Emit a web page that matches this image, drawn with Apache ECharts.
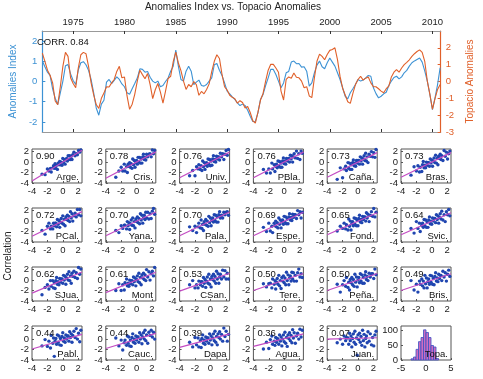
<!DOCTYPE html>
<html>
<head>
<meta charset="utf-8">
<script src="https://cdn.jsdelivr.net/npm/echarts@6/dist/echarts.min.js"></script>
<style>
    html, body { margin: 0; padding: 0; background: #fff; }
    #chart { width: 483px; height: 379px; }
</style>
</head>
<body>
<div id="chart"></div>
<script>
// ---- top panel: quarterly samples ----
var startYear = 1972;
var stepYear = 0.25;
var anomIndex = [
    1.01, 0.73, 0.46, 0.3, -0.36, -0.83, -1.14, -0.56, 0.02, 0.78, 0.84, 0.38,
    0.05, -0.15, 0.56, 0.93, 0.98, 0.83, 0.55, 0.1, -0.56, -1.31, -1.67, -1.12,
    -0.93, -0.03, 0.1, -0.1, 0.05, 0.23, 0.1, -0.12, -0.26, -0.56, -0.63, -0.36,
    -0.1, 0.17, 0.63, 0.6, 0.46, 0.5, 0.21, 0.02, -0.07, 0.02, -0.26, -0.2,
    0, 0.17, 0.51, 0.76, 1.55, 0.76, 0.1, 0.02, 0.51, 0.76, 0.51, -0.15,
    -0.03, 0.07, -0.2, -0.23, -0.15, 0.02, 0.18, 0.83, 0.89, 0.56, 0.3, -0.07,
    -0.48, -0.61, -0.76, -0.89, -1.06, -1.19, -1.12, -1.19, -1.42, -1.72, -1.98, -1.97,
    -1.55, -0.89, -0.64, -0.2, 0.18, 0.6, 0.6, 0.35, 0.02, -0.31, -0.07, 0.43,
    0.5, 0.96, 1.01, 0.88, 0.89, 0.71, 0.73, 0.51, -0.23, -0.07, 0.43, 0.81,
    1.01, 0.73, 0.63, 0.93, 1.16, 0.96, 0.76, 0.43, 0.1, -0.31, -0.73, -0.86,
    -0.56, -0.36, -0.15, 0.1, 0.02, 0.07, 0.18, 0.3, 0.26, -0.31, -0.6, -0.81,
    -0.73, -0.61, -0.53, -0.2, 0.02, 0.2, 0.26, 0.13, 0.23, 0.43, 0.55, 0.76,
    0.93, 1.02, 1.09, 1.16, 0.96, 0.53, 0.02, -0.64, -1.39, -0.81, -0.15, 0.68
];
var topacio = [
    1.69, 1.2, 0.67, 0.37, -0.08, -1.16, -1.37, -0.31, 0.9, 1.73, 1.49, 0.22,
    -0.12, -0.37, 0.8, 1.59, 1.73, 1.65, 0.9, -0.08, -0.8, -1.37, -1.6, -1.0,
    -0.69, -0.31, -0.33, -0.08, 0.12, 0.6, 0.9, 0.22, 0.27, -0.86, -1.65, -1.35,
    -0.76, 0.02, 0.67, 0.41, 0.16, 0.47, -0.18, -1.02, -0.49, -0.12, -0.63, -1.29,
    -0.57, 0.18, 0.31, 1.18, 1.75, 1.1, 0.65, 0.02, -0.47, -0.18, -0.31, 0,
    -0.18, -0.82, -0.59, -0.73, -0.47, -0.14, 0.59, 1.2, 1.59, 1.37, 0.43, -0.31,
    -0.51, -0.82, -0.94, -1.02, -1.29, -1.14, -1.25, -1.57, -1.49, -1.84, -2.33, -2.47,
    -1.84, -1.1, -0.71, 0.02, 0.67, 1.02, 1.02, 0.8, 0.55, -0.57, -1.1, 0.12,
    0.27, 0.2, 0.51, 0.25, 0.22, 0.02, -0.37, -0.31, -0.86, -0.96, 0.22, 1.2,
    1.63, 1.49, 1.29, 1.6, 1.85, 1.9, 2.0, 1.3, 0.3, -0.4, -0.8, -1.2,
    -1.3, -0.7, -0.18, 0.12, 0.31, 0.08, 0.2, 0.27, -0.08, -0.31, -0.31, -0.43,
    -0.57, -0.67, -0.43, -0.27, 0.27, 0.55, 0.71, 0.55, 0.8, 1.0, 1.14, 1.29,
    1.49, 1.65, 1.78, 1.88, 1.73, 1.2, 0.02, -0.76, -1.65, -1.02, -0.47, -0.18
];
var yearTicks = [1975, 1980, 1985, 1990, 1995, 2000, 2005, 2010];
var leftTicks = [-2, -1, 0, 1, 2];
var rightTicks = [-3, -2, -1, 0, 1, 2];

// ---- scatter panels ----
var stations = ['Arge.', 'Cris.', 'Univ.', 'PBla.', 'Caña.', 'Bras.',
    'PCal.', 'Yana.', 'Pala.', 'Espe.', 'Fond.', 'Svic.',
    'SJua.', 'Mont', 'CSan.', 'Tere.', 'Peña.', 'Bris.',
    'Pabl.', 'Cauc.', 'Dapa', 'Agua.', 'Juan.'];
var corrVals = ['0.90', '0.78', '0.76', '0.76', '0.73', '0.73',
    '0.72', '0.70', '0.70', '0.69', '0.65', '0.64',
    '0.62', '0.61', '0.53', '0.50', '0.50', '0.49',
    '0.44', '0.44', '0.39', '0.36', '0.07'];
var fitLeft = [-3.6, -3.1, -3.0, -3.0, -2.9, -2.9, -2.9, -2.8, -2.8, -2.8, -2.6, -2.6,
    -2.5, -2.4, -2.1, -2.0, -2.0, -2.0, -1.9, -1.8, -1.6, -1.4, 0.0];
var fitRight = [2.25, 1.95, 1.9, 1.9, 1.8, 1.8, 1.8, 1.75, 1.75, 1.7, 1.6, 1.6,
    1.55, 1.5, 1.3, 1.25, 1.25, 1.2, 0.9, 1.1, 1.0, 1.0, 0.25];
var scatTicks = [-4, -2, 0, 2];

var topaX = [-2.7, -2.3, -2.0, -1.8, -1.6, -1.5, -1.3, -1.2, -1.1, -1.0, -0.9, -0.8, -0.7, -0.6, -0.5,
    -0.4, -0.3, -0.2, -0.1, 0.0, 0.1, 0.2, 0.3, 0.4, 0.5, 0.6, 0.7, 0.8, 0.9, 1.0,
    1.1, 1.2, 1.3, 1.45, 1.6, 1.75, 1.9, 2.05, 2.2, 2.35];
var yArge = [-2.3, -2.4, -1.3, -1.7, -1.2, -1.9, -1.1, -0.7, -1.2, -0.3, -1.2, -0.6, -1.4, -0.2, -0.5, 0.1, -0.5, 0.0, -0.6, 0.7, -0.1, 0.5, -0.4, 0.4, 0.7, 0.2, 1.2, 0.5, 1.2, 0.5, 1.1, 0.5, 1.4, 1.9, 1.2, 1.6, 1.4, 2.2, 1.9, 2.3];
var yCris = [-2.9, -1.7, -1.0, -1.7, -0.4, -1.7, -0.9, -2.0, -0.4, -0.8, -0.1, -1.0, -0.3, -1.2, 0.6, -0.5, 0.3, -1.0, -0.1, 0.3, -0.4, 0.9, 0.0, 0.9, -0.2, 0.6, -0.2, 1.0, 1.5, 0.5, 0.9, 0.4, 1.5, 1.0, 1.5, 1.6, 1.0, 2.3, 1.6, 2.2];
var yUniv = [-2.6, -1.6, -2.6, -0.9, -1.3, -0.5, -1.4, -0.7, -1.6, 0.2, -0.9, -0.1, -1.4, -0.5, -0.1, -0.8, 0.6, -0.4, 0.5, -0.7, 0.2, -0.6, 0.6, 1.2, 0.1, 0.5, 0.0, 1.1, 0.6, 1.0, 1.0, 0.4, 1.7, 1.0, 1.6, 0.5, 1.5, 2.2, 1.3, 2.4];
var yPBla = [-1.4, -2.1, -1.3, -2.1, -0.2, -1.3, -0.5, -1.8, -0.8, -0.4, -1.1, 0.2, -0.8, 0.1, -1.0, -0.2, -1.0, 0.2, 0.8, -0.3, 0.2, -0.4, 0.7, 0.2, 0.6, 0.7, 0.0, 1.3, 0.6, 1.2, 0.0, 1.0, 1.6, 0.8, 2.1, 0.7, 1.6, 0.5, 2.1, 1.7];
var yCana = [-3.3, -1.1, -3.0, -1.3, -0.8, -1.6, -0.1, -1.2, -0.2, -1.4, -0.5, -1.4, -0.1, 0.4, -0.7, -0.2, -0.8, 0.3, -0.2, 0.3, 0.3, -0.4, 1.0, 0.2, 0.8, -0.4, 0.6, 1.2, 0.3, 1.7, 0.2, 1.0, -0.1, 1.5, 1.1, 2.0, 1.0, 1.8, 0.9, 2.4];
var yBras = [-2.5, -0.9, -1.7, -0.7, -1.9, -1.0, -1.8, -0.5, 0.1, -1.1, -0.6, -1.1, 0.0, -0.6, -0.1, -0.1, -0.8, 0.6, -0.2, 0.4, -0.8, 0.2, 0.8, -0.1, 1.3, -0.2, 0.7, -0.5, 1.1, 0.7, 1.5, 0.5, 1.2, 0.3, 2.2, 1.1, 1.9, 0.6, 1.6, 2.1];
var yPCal = [-1.8, -2.5, -1.0, -0.4, -1.5, -1.0, -1.5, -0.4, -0.9, -0.4, -0.4, -1.1, 0.3, -0.6, 0.1, -1.2, -0.2, 0.5, -0.4, 1.0, -0.6, 0.3, -0.9, 0.8, 0.3, 1.1, 0.1, 0.9, -0.1, 1.8, 0.6, 1.4, 0.0, 1.0, 1.5, 0.8, 2.2, 1.2, 2.2, 1.0];
var yYana = [-1.8, -2.2, -0.9, -1.4, -0.8, -0.8, -1.5, -0.1, -0.9, -0.3, -1.6, -0.5, 0.2, -0.8, 0.6, -0.9, -0.1, -1.3, 0.4, -0.1, 0.8, -0.3, 0.5, -0.5, 1.4, 0.2, 1.1, -0.4, 0.6, 1.1, 0.3, 1.7, 0.6, 1.7, 0.4, 1.4, 0.5, 1.9, 2.4, 1.3];
var yPala = [-1.1, -1.8, -1.0, -2.2, -1.1, -0.4, -1.3, 0.2, -1.4, -0.6, -1.8, -0.1, -0.6, 0.3, -0.8, 0.0, -1.0, 0.9, -0.3, 0.6, -0.9, 0.1, 0.6, -0.2, 1.2, 0.1, 1.1, -0.2, 0.8, -0.2, 1.2, 1.8, 0.6, 1.1, 0.6, 1.7, 1.2, 1.7, 1.8, 1.1];
var yEspe = [-1.2, -2.0, -0.4, -1.9, -1.0, -2.2, -0.4, -0.9, 0.0, -1.1, -0.3, -1.3, 0.6, -0.6, 0.2, -1.3, -0.2, 0.2, -0.6, 0.9, -0.2, 0.8, -0.5, 0.4, -0.5, 0.8, 1.4, 0.2, 0.7, 0.1, 1.3, 0.7, 1.2, 1.2, 0.5, 2.0, 1.2, 1.8, 0.6, 1.7];
var yFond = [-1.9, -1.0, -1.4, -0.4, -1.5, -0.7, -1.7, 0.4, -1.0, 0.0, -1.7, -0.5, -0.1, -0.9, 0.6, -0.6, 0.5, -0.9, 0.1, -0.9, 0.5, 1.1, -0.2, 0.3, -0.3, 0.9, 0.3, 0.8, 0.8, 0.0, 1.6, 0.6, 1.3, -0.1, 1.1, 1.8, 0.9, 2.4, 0.8, 1.7];
var ySvic = [-1.4, -2.3, -0.1, -1.4, -0.4, -2.0, -0.8, -0.4, -1.2, 0.3, -0.9, 0.2, -1.2, -0.2, -1.2, 0.2, 0.8, -0.5, 0.0, -0.6, 0.6, 0.0, 0.5, 0.5, -0.3, 1.2, 0.3, 1.0, -0.4, 0.7, 1.4, 0.4, 1.9, 0.2, 1.2, -0.1, 1.8, 1.2, 2.2, 1.0];
var ySJua = [-2.8, -1.4, -0.9, -1.7, -0.1, -1.2, -0.1, -1.5, -0.5, -1.6, -0.1, 0.5, -0.8, -0.3, -0.9, 0.3, -0.4, 0.2, 0.2, -0.6, 0.9, 0.0, 0.7, -0.8, 0.4, 1.1, 0.0, 1.6, -0.1, 0.8, -0.6, 1.3, 0.7, 1.7, 0.5, 1.4, 0.3, 2.4, 1.1, 2.1];
var yMont = [-2.0, -0.7, -2.0, -0.9, -1.9, -0.5, 0.2, -1.1, -0.6, -1.2, 0.0, -0.7, -0.1, -0.1, -0.9, 0.6, -0.3, 0.4, -1.1, 0.1, 0.8, -0.3, 1.3, -0.5, 0.5, -0.9, 1.0, 0.4, 1.3, 0.1, 1.0, -0.1, 2.0, 0.6, 1.6, 0.0, 1.2, 1.7, 0.8, 2.4];
var yCSan = [-0.9, -0.1, -1.5, -0.9, -1.5, -0.2, -0.9, -0.3, -0.3, -1.2, 0.5, -0.6, 0.1, -1.4, -0.2, 0.6, -0.6, 1.1, -0.8, 0.2, -1.3, 0.7, 0.1, 1.1, -0.2, 0.7, -0.6, 1.7, 0.2, 1.2, -0.6, 0.6, 1.1, 0.2, 1.9, 0.6, 1.8, 0.2, 1.3, 0.2];
var yTere = [-0.7, -1.3, -0.7, -0.6, -1.5, 0.2, -0.8, -0.1, -1.7, -0.4, 0.3, -0.8, 0.9, -1.1, -0.1, -1.6, 0.5, -0.2, 0.8, -0.5, 0.4, -0.9, 1.5, -0.1, 1.0, -0.9, 0.4, 0.8, -0.2, 1.5, 0.2, 1.4, -0.2, 0.9, -0.2, 1.4, 2.1, 0.6, 1.2, 0.5];
var yPena = [-0.8, -2.3, -0.9, -0.1, -1.2, 0.5, -1.4, -0.4, -1.9, 0.1, -0.5, 0.5, -0.9, 0.1, -1.2, 1.1, -0.4, 0.6, -1.3, 0.0, 0.5, -0.5, 1.2, -0.2, 1.0, -0.6, 0.5, -0.6, 1.0, 1.6, 0.1, 0.7, -0.1, 1.3, 0.6, 1.2, 1.2, 0.3, 2.1, 1.0];
var yBris = [-0.1, -1.9, -0.8, -2.3, -0.2, -0.8, 0.2, -1.1, -0.2, -1.5, 0.9, -0.7, 0.4, -1.5, -0.3, 0.2, -0.8, 0.9, -0.4, 0.8, -0.8, 0.3, -0.9, 0.7, 1.4, -0.2, 0.4, -0.3, 1.1, 0.3, 0.9, 0.9, -0.1, 1.7, 0.6, 1.4, -0.2, 1.1, 1.9, 0.7];
var yPabl = [-1.3, -0.1, -1.4, -0.4, -1.7, 0.7, -0.8, 0.2, -3.3, -0.4, 0.1, -1.0, 0.8, -0.6, 0.6, -1.1, 0.1, -1.2, 0.5, 1.2, -0.4, 0.2, -0.6, 0.8, 0.0, 0.6, 0.6, -0.4, 1.4, 0.3, 1.0, -0.6, 0.7, 1.5, 0.3, 2.0, 0.0, 1.1, -0.5, 1.7];
var yCauc = [0.2, -1.3, -0.2, -2.1, -0.7, -0.2, -1.2, 0.6, -0.8, 0.4, -1.3, -0.2, -1.4, 0.3, 1.0, -0.6, 0.0, -0.8, 0.6, -0.2, 0.4, 0.4, -0.6, 1.2, 0.0, 0.8, -0.9, 0.4, 1.2, 0.0, 1.7, -0.3, 0.8, -0.8, 1.3, 0.7, 1.7, 0.4, 1.3, 0.0];
var yDapa = [-0.6, -1.5, 0.3, -1.1, 0.2, -1.5, -0.3, -1.6, 0.1, 0.8, -0.8, -0.2, -1.0, 0.4, -0.4, 0.2, 0.2, -0.8, 1.0, -0.2, 0.6, -1.1, 0.2, 1.0, -0.3, 1.5, -0.6, 0.5, -1.1, 1.0, 0.3, 1.4, 0.0, 0.9, -0.4, 2.1, 0.5, 1.5, -0.4, 0.9];
var yAgua = [-1.9, -0.6, -1.8, -0.1, 0.6, -1.0, -0.4, -1.2, 0.3, -0.6, 0.1, 0.0, -1.0, 0.8, -0.4, 0.4, -1.3, 0.0, 0.8, -0.5, 1.3, -0.8, 0.3, -1.4, 0.8, 0.1, 1.2, -0.3, 0.7, -0.7, 1.8, 0.2, 1.2, -0.8, 0.6, 1.1, 0.0, 1.9, 0.4, 1.7];
var yJuan = [-0.7, 0.0, -1.0, 0.6, -0.3, 0.3, 0.2, -1.0, 1.1, -0.3, 0.6, -1.5, 0.1, 1.0, -0.6, 1.5, -1.0, 0.2, -3.1, 0.8, -0.1, 1.1, -0.6, 0.5, -1.2, 1.7, -0.3, 0.9, -1.5, 0.1, 0.6, -0.7, 1.4, -0.4, 1.0, -1.1, 0.3, -1.3, 0.8, 1.5];
var stationY = [yArge, yCris, yUniv, yPBla, yCana, yBras, yPCal, yYana, yPala, yEspe, yFond, ySvic,
    ySJua, yMont, yCSan, yTere, yPena, yBris, yPabl, yCauc, yDapa, yAgua, yJuan];

// ---- histogram (Topa.) ----
var histCenters = [-2.75, -2.25, -1.75, -1.25, -0.75, -0.25, 0.25, 0.75, 1.25, 1.75, 2.25];
var histCounts = [4, 10, 36, 62, 76, 102, 93, 76, 49, 44, 5];
var binWidth = 0.5;

var FONT = 'Liberation Sans';
var BLUE = '#3d92d4';
var ORANGE = '#e0602a';
var DOT = '#1f45b0';
var FIT = '#c34cc3';
var BOX = '#555';

var chart = echarts.init(document.getElementById('chart'));

var grids = [{left: 26, top: 31, width: 426, height: 101}];
var xAxes = [];
var yAxes = [];
var series = [];
var graphics = [];

function plainNum(v) { return String(v); }

// top panel axes
xAxes.push({
    type: 'value', gridIndex: 0, position: 'top', min: 1972, max: 2010.8,
    axisLine: {onZero: false, lineStyle: {color: '#999', width: 1.2}},
    axisTick: {inside: true, length: 3, customValues: yearTicks, lineStyle: {color: '#333'}},
    axisLabel: {customValues: yearTicks, formatter: plainNum, color: '#222', fontSize: 9.5, fontFamily: FONT, margin: 4},
    splitLine: {show: false}
});
xAxes.push({
    type: 'value', gridIndex: 0, position: 'bottom', min: 1972, max: 2010.8,
    axisLine: {onZero: false, lineStyle: {color: '#999', width: 1.2}},
    axisTick: {inside: true, length: 3, customValues: yearTicks, lineStyle: {color: '#333'}},
    axisLabel: {show: false},
    splitLine: {show: false}
});
yAxes.push({
    type: 'value', gridIndex: 0, position: 'left', min: -2.5, max: 2.5,
    name: 'Anomalies Index', nameLocation: 'middle', nameGap: 17,
    nameTextStyle: {color: BLUE, fontSize: 10, fontFamily: FONT},
    axisLine: {show: true, onZero: false, lineStyle: {color: BLUE, width: 1.2}},
    axisTick: {show: true, inside: true, length: 3, customValues: leftTicks, lineStyle: {color: BLUE}},
    axisLabel: {customValues: leftTicks, color: BLUE, fontSize: 9.5, fontFamily: FONT, margin: 5},
    splitLine: {show: false}
});
yAxes.push({
    type: 'value', gridIndex: 0, position: 'right', min: -3, max: 3,
    name: 'Topacio Anomalies', nameLocation: 'middle', nameGap: 24,
    nameTextStyle: {color: ORANGE, fontSize: 10, fontFamily: FONT},
    axisLine: {show: true, onZero: false, lineStyle: {color: ORANGE, width: 1.2}},
    axisTick: {show: true, inside: true, length: 3, customValues: rightTicks, lineStyle: {color: ORANGE}},
    axisLabel: {customValues: rightTicks, color: ORANGE, fontSize: 9.5, fontFamily: FONT, margin: 5},
    splitLine: {show: false}
});

var blueData = [], orangeData = [];
for (var i = 0; i < anomIndex.length; i++) {
    blueData.push([startYear + i * stepYear, anomIndex[i]]);
    orangeData.push([startYear + i * stepYear, topacio[i]]);
}
series.push({
    type: 'line', xAxisIndex: 0, yAxisIndex: 0, data: blueData, showSymbol: false,
    lineStyle: {color: BLUE, width: 1.1}, itemStyle: {color: BLUE}, silent: true
});
series.push({
    type: 'line', xAxisIndex: 0, yAxisIndex: 1, data: orangeData, showSymbol: false,
    lineStyle: {color: ORANGE, width: 1.1}, itemStyle: {color: ORANGE}, silent: true
});

// small panels
var gw = 50, gh = 34;
function panelLeft(c) { return 32 + c * 73.8; }
function panelTop(r) { return 149 + r * 59; }

function smallAxes(gi, xmin, xmax, xt, ymin, ymax, yt) {
    xAxes.push({
        type: 'value', gridIndex: gi, min: xmin, max: xmax, position: 'bottom',
        axisLine: {show: false, onZero: false},
        axisTick: {show: true, inside: true, length: 2, customValues: xt, lineStyle: {color: BOX}},
        axisLabel: {customValues: xt, color: '#222', fontSize: 9.5, fontFamily: FONT, margin: 3},
        splitLine: {show: false}
    });
    yAxes.push({
        type: 'value', gridIndex: gi, min: ymin, max: ymax, position: 'left',
        axisLine: {show: false, onZero: false},
        axisTick: {show: true, inside: true, length: 2, customValues: yt, lineStyle: {color: BOX}},
        axisLabel: {customValues: yt, color: '#222', fontSize: 9.5, fontFamily: FONT, margin: 3},
        splitLine: {show: false}
    });
}

for (var p = 0; p < 24; p++) {
    var r = Math.floor(p / 6), c = p % 6;
    var gl = panelLeft(c), gt = panelTop(r);
    grids.push({left: gl, top: gt, width: gw, height: gh, show: true, borderColor: BOX, borderWidth: 1});
    var gi = p + 1, ai = p + 2;
    if (p < 23) {
        smallAxes(gi, -4, 2.5, scatTicks, -4, 2.5, scatTicks);
        var pts = [];
        for (var k = 0; k < topaX.length; k++) pts.push([topaX[k], stationY[p][k]]);
        series.push({
            type: 'scatter', xAxisIndex: ai, yAxisIndex: ai, data: pts,
            symbolSize: 3.4, itemStyle: {color: DOT, opacity: 1}, silent: true
        });
        series.push({
            type: 'line', xAxisIndex: ai, yAxisIndex: ai,
            data: [[-4, fitLeft[p]], [2.5, fitRight[p]]], showSymbol: false,
            lineStyle: {color: FIT, width: 1.2}, silent: true, z: 3
        });
        graphics.push({
            type: 'text', x: gl + 4, y: gt + 2, z: 10,
            style: {text: corrVals[p], font: '9.5px ' + FONT, fill: '#111', align: 'left', verticalAlign: 'top'}
        });
        graphics.push({
            type: 'text', x: gl + gw - 3, y: gt + gh - 1, z: 10,
            style: {text: stations[p], font: '9.5px ' + FONT, fill: '#111', align: 'right', verticalAlign: 'bottom'}
        });
    } else {
        smallAxes(gi, -5, 5, [-5, 0, 5], 0, 115, [0, 50, 100]);
        var bars = [];
        for (var b = 0; b < histCenters.length; b++) bars.push([histCenters[b], histCounts[b]]);
        series.push({
            type: 'custom', xAxisIndex: ai, yAxisIndex: ai, data: bars, silent: true,
            renderItem: function (params, api) {
                var cx = api.value(0), h = api.value(1);
                var p0 = api.coord([cx - binWidth / 2, h]);
                var p1 = api.coord([cx + binWidth / 2, 0]);
                return {
                    type: 'rect',
                    shape: {x: p0[0], y: p0[1], width: p1[0] - p0[0], height: p1[1] - p0[1]},
                    style: {fill: '#cd6cc0', stroke: '#3a52c4', lineWidth: 0.8}
                };
            }
        });
        graphics.push({
            type: 'text', x: gl + gw - 3, y: gt + gh - 1, z: 10,
            style: {text: 'Topa.', font: '9.5px ' + FONT, fill: '#111', align: 'right', verticalAlign: 'bottom'}
        });
    }
}

// titles and loose labels
graphics.push({
    type: 'text', x: 233, y: 7,
    style: {text: 'Anomalies Index vs. Topacio Anomalies', font: '10px ' + FONT, fill: '#222', align: 'center', verticalAlign: 'middle'}
});
graphics.push({
    type: 'text', x: 37, y: 42, z: 10,
    style: {text: 'CORR. 0.84', font: '9.5px ' + FONT, fill: '#111', align: 'left', verticalAlign: 'middle'}
});
graphics.push({
    type: 'text', x: 8, y: 256, rotation: Math.PI / 2,
    style: {text: 'Correlation', font: '10px ' + FONT, fill: '#222', align: 'center', verticalAlign: 'middle'}
});

chart.setOption({
    animation: false,
    grid: grids,
    xAxis: xAxes,
    yAxis: yAxes,
    series: series,
    graphic: {elements: graphics}
});
</script>
</body>
</html>
